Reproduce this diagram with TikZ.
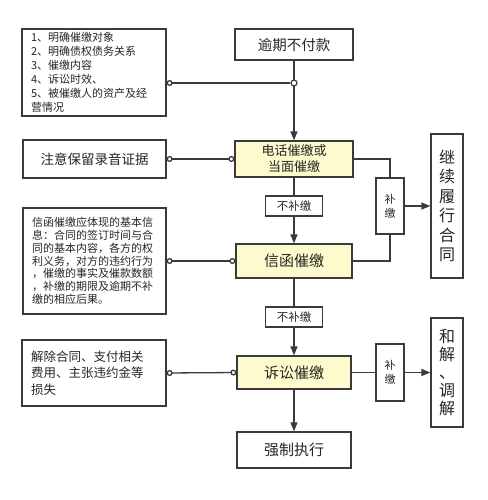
\documentclass[tikz,border=0pt]{standalone}
\usepackage{fontspec}
\setmainfont{Noto Sans CJK SC}
\usetikzlibrary{arrows.meta}
\definecolor{lnc}{HTML}{3A3A3A}
\definecolor{yel}{RGB}{253,251,205}
\begin{document}
\begin{tikzpicture}[x=1pt,y=-1pt,
  bx/.style={draw=lnc, line width=1.3pt, inner sep=0pt, align=center, fill=white, text=black!85},
  ybx/.style={bx, fill=yel},
  conn/.style={draw=lnc, line width=1.3pt},
  arr/.style={conn, -{Triangle[length=9pt,width=7pt]}},
  cstart/.style={conn, {Circle[open,length=6pt,width=6pt]}-},
  cboth/.style={conn, {Circle[open,length=6pt,width=6pt]}-{Circle[open,length=6pt,width=6pt]}}
]
\useasboundingbox (0,0) rectangle (487,500);
\fill[white] (0,0) rectangle (487,500);

% main column
\node[bx, minimum width=118pt, minimum height=31pt, font=\fontsize{14.5}{16}\selectfont] (start) at (294,44.5) {逾期不付款};
\node[ybx, minimum width=118pt, minimum height=36pt, font=\fontsize{13}{16}\selectfont] (phone) at (294,159) {电话催缴或\\当面催缴};
\node[bx, minimum width=57pt, minimum height=20pt, font=\fontsize{11.5}{13}\selectfont] (nb1) at (294,206) {不补缴};
\node[ybx, minimum width=116pt, minimum height=34pt, font=\fontsize{15}{17}\selectfont] (letter) at (294,261) {信函催缴};
\node[bx, minimum width=57pt, minimum height=20pt, font=\fontsize{11.5}{13}\selectfont] (nb2) at (294,317) {不补缴};
\node[ybx, minimum width=114pt, minimum height=33pt, font=\fontsize{15}{17}\selectfont] (suit) at (294,372.5) {诉讼催缴};
\node[bx, minimum width=114pt, minimum height=36pt, font=\fontsize{15}{17}\selectfont] (exec) at (294,450) {强制执行};

% right column
\node[bx, minimum width=28pt, minimum height=56pt, font=\fontsize{11}{14}\selectfont] (bj1) at (390,206) {补\\缴};
\node[bx, minimum width=28pt, minimum height=57pt, font=\fontsize{11}{14}\selectfont] (bj2) at (390,372.5) {补\\缴};
\node[bx, minimum width=32pt, minimum height=144pt, font=\fontsize{16}{19.5}\selectfont] (cont) at (447,206) {继\\续\\履\\行\\合\\同};
\node[bx, minimum width=32pt, minimum height=109pt, font=\fontsize{16}{18}\selectfont] (recon) at (447,372.5) {和\\解\\、\\调\\解};

% left column
\node[bx, minimum width=144pt, minimum height=87pt, text width=126pt, align=left, font=\fontsize{11}{14}\selectfont] (list) at (94,72.5)
  {1、明确催缴对象\\2、明确债权债务关系\\3、催缴内容\\4、诉讼时效、\\5、被催缴人的资产及经\\营情况};
\node[bx, minimum width=143pt, minimum height=38pt, font=\fontsize{13.5}{15}\selectfont] (note) at (94.5,159) {注意保留录音证据};
\node[bx, minimum width=143pt, minimum height=106pt, text width=125pt, align=left, font=\fontsize{11}{12.8}\selectfont] (info) at (94.5,261)
  {信函催缴应体现的基本信\\息：合同的签订时间与合\\同的基本内容，各方的权\\利义务，对方的违约行为\\，催缴的事实及催款数额\\，补缴的期限及逾期不补\\缴的相应后果。};
\node[bx, minimum width=144pt, minimum height=66pt, text width=126pt, align=left, font=\fontsize{12.5}{16.5}\selectfont] (term) at (94,373)
  {解除合同、支付相关\\费用、主张违约金等\\损失};

% connectors
\draw[arr] (start.south) -- (phone.north);
\node[circle, draw=lnc, line width=1.2pt, fill=white, inner sep=0pt, minimum size=6pt] (j) at (294,83) {};
\draw[cstart] (list.east |- j) -- (j.west);
\draw[cboth] (note.east) -- (phone.west);
\draw[cboth] (info.east) -- (letter.west);
\draw[cboth] (term.east) -- (suit.west);
\draw[conn] (phone.south) -- (nb1.north);
\draw[arr] (nb1.south) -- (letter.north);
\draw[conn] (letter.south) -- (nb2.north);
\draw[arr] (nb2.south) -- (suit.north);
\draw[arr] (suit.south) -- (exec.north);
\draw[conn] (phone.east) -| (bj1.north);
\draw[conn] (letter.east) -| (bj1.south);
\draw[arr] (bj1.east) -- (cont.west);
\draw[conn] (suit.east) -- (bj2.west);
\draw[arr] (bj2.east) -- (recon.west);
\end{tikzpicture}
\end{document}
